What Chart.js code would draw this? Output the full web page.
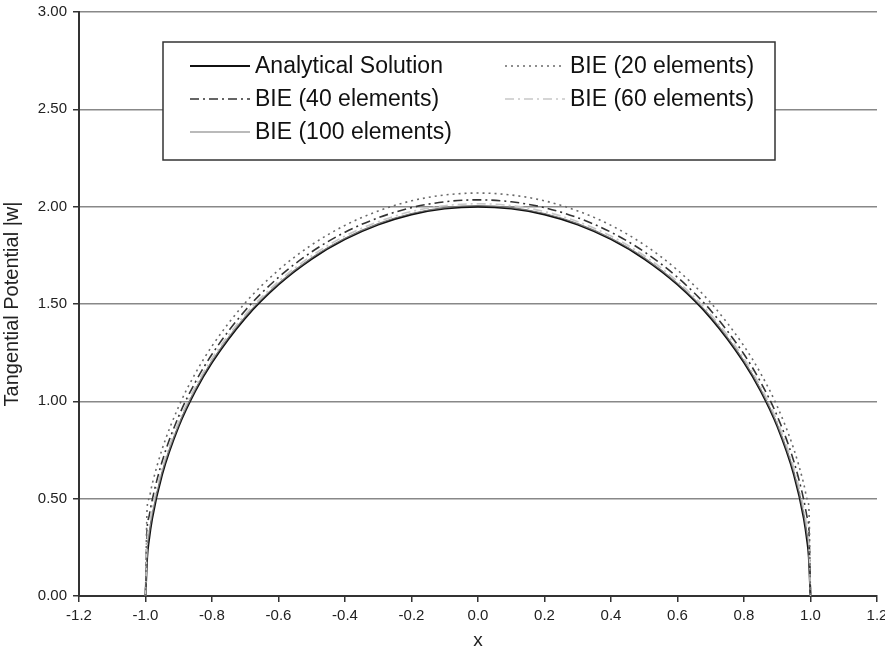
<!DOCTYPE html>
<html>
<head>
<meta charset="utf-8">
<script src="https://cdn.jsdelivr.net/npm/chart.js@4.4.0/dist/chart.umd.min.js"></script>
<style>
  html, body { margin: 0; padding: 0; background: #fff; }
  #wrap { width: 885px; height: 652px; }
</style>
</head>
<body>
<div id="wrap"><canvas id="potentialChart" width="885" height="652"></canvas></div>
<script>
// x positions along the plate
const xs = [-1, -0.995, -0.99, -0.98, -0.95, -0.9, -0.85, -0.8, -0.7, -0.6, -0.5, -0.4, -0.3, -0.2, -0.1,
  0, 0.1, 0.2, 0.3, 0.4, 0.5, 0.6, 0.7, 0.8, 0.85, 0.9, 0.95, 0.98, 0.99, 0.995, 1];

// tangential potential |w|
const analytical = [0, 0.200, 0.282, 0.398, 0.624, 0.872, 1.054, 1.200, 1.428, 1.600, 1.732, 1.833, 1.908, 1.960, 1.990,
  2.000, 1.990, 1.960, 1.908, 1.833, 1.732, 1.600, 1.428, 1.200, 1.054, 0.872, 0.624, 0.398, 0.282, 0.200, 0];
const bie20 = [0, 0.456, 0.498, 0.574, 0.754, 0.974, 1.144, 1.284, 1.506, 1.674, 1.804, 1.904, 1.978, 2.030, 2.060,
  2.070, 2.060, 2.030, 1.978, 1.904, 1.804, 1.674, 1.506, 1.284, 1.144, 0.974, 0.754, 0.574, 0.498, 0.456, 0];
const bie40 = [0, 0.349, 0.403, 0.492, 0.691, 0.924, 1.099, 1.242, 1.467, 1.637, 1.768, 1.869, 1.943, 1.995, 2.025,
  2.035, 2.025, 1.995, 1.943, 1.869, 1.768, 1.637, 1.467, 1.242, 1.099, 0.924, 0.691, 0.492, 0.403, 0.349, 0];
const bie60 = [0, 0.284, 0.347, 0.447, 0.657, 0.897, 1.075, 1.220, 1.446, 1.616, 1.748, 1.849, 1.923, 1.975, 2.005,
  2.015, 2.005, 1.975, 1.923, 1.849, 1.748, 1.616, 1.446, 1.220, 1.075, 0.897, 0.657, 0.447, 0.347, 0.284, 0];
const bie100 = [0, 0.237, 0.309, 0.418, 0.638, 0.881, 1.062, 1.207, 1.435, 1.606, 1.738, 1.838, 1.913, 1.965, 1.995,
  2.005, 1.995, 1.965, 1.913, 1.838, 1.738, 1.606, 1.435, 1.207, 1.062, 0.881, 0.638, 0.418, 0.309, 0.237, 0];

const xTicks = [-1.2, -1.0, -0.8, -0.6, -0.4, -0.2, 0.0, 0.2, 0.4, 0.6, 0.8, 1.0, 1.2];
const yTicks = [0, 0.5, 1.0, 1.5, 2.0, 2.5, 3.0];

const FONT = "'Liberation Sans', Arial, sans-serif";

function pts(ys) {
  return xs.map((x, i) => ({ x: x, y: ys[i] }));
}

function series(label, ys, color, width, dash) {
  return {
    label: label,
    data: pts(ys),
    borderColor: color,
    borderWidth: width,
    borderDash: dash,
    pointRadius: 0,
    fill: false,
    cubicInterpolationMode: "monotone",
  };
}

// draw order: analytical on top
const datasets = [
  series("BIE (20 elements)", bie20, "#6a6a6a", 1.6, [2, 4]),
  series("BIE (60 elements)", bie60, "#c8c8c8", 1.6, [9, 4, 2, 4]),
  series("BIE (40 elements)", bie40, "#333333", 1.6, [9, 4, 2, 4]),
  series("BIE (100 elements)", bie100, "#777777", 1.2, []),
  series("Analytical Solution", analytical, "#111111", 2, []),
];

// legend box drawn inside the plot, two columns like the original
const legendOrder = [
  ["Analytical Solution", 0, 0],
  ["BIE (20 elements)", 1, 0],
  ["BIE (40 elements)", 0, 1],
  ["BIE (60 elements)", 1, 1],
  ["BIE (100 elements)", 0, 2],
];

const boxLegend = {
  id: "boxLegend",
  afterDraw(chart) {
    const c = chart.ctx;
    const bx = 163, by = 42, bw = 612, bh = 118;
    c.save();
    c.fillStyle = "#fff";
    c.fillRect(bx, by, bw, bh);
    c.strokeStyle = "#333";
    c.lineWidth = 1.5;
    c.strokeRect(bx, by, bw, bh);
    c.font = "23px " + FONT;
    c.textBaseline = "middle";
    legendOrder.forEach(([label, col, row]) => {
      const ds = chart.data.datasets.find((d) => d.label === label);
      const x0 = col === 0 ? 190 : 505;
      const y = 66 + row * 33;
      c.strokeStyle = ds.borderColor;
      c.lineWidth = ds.borderWidth;
      c.setLineDash(ds.borderDash);
      c.beginPath();
      c.moveTo(x0, y);
      c.lineTo(x0 + 60, y);
      c.stroke();
      c.setLineDash([]);
      c.fillStyle = "#111";
      c.fillText(label, x0 + 65, y + 1);
    });
    c.restore();
  },
};

new Chart(document.getElementById("potentialChart"), {
  type: "line",
  data: { datasets: datasets },
  plugins: [boxLegend],
  options: {
    responsive: false,
    animation: false,
    layout: { padding: { top: 12, right: 8, left: 0, bottom: 0 } },
    plugins: { legend: { display: false }, tooltip: { enabled: false } },
    scales: {
      x: {
        type: "linear",
        min: -1.2,
        max: 1.2,
        afterBuildTicks: (s) => { s.ticks = xTicks.map((v) => ({ value: v })); },
        afterFit: (s) => { s.height = 56; s.paddingLeft = 0; s.paddingRight = 0; },
        ticks: {
          color: "#222",
          font: { family: FONT, size: 15 },
          padding: 5,
          callback: (v) => Number(v).toFixed(1),
        },
        grid: { drawOnChartArea: false, drawTicks: true, tickLength: 6, color: "#333", lineWidth: 1.5 },
        border: { color: "#333", width: 2 },
        title: { display: true, text: "x", color: "#222", font: { family: FONT, size: 19 }, padding: { top: 2, bottom: 0 } },
      },
      y: {
        min: 0,
        max: 3,
        afterBuildTicks: (s) => { s.ticks = yTicks.map((v) => ({ value: v })); },
        afterFit: (s) => { s.width = 79; s.paddingTop = 0; s.paddingBottom = 0; },
        ticks: {
          color: "#222",
          font: { family: FONT, size: 15 },
          padding: 6,
          callback: (v) => Number(v).toFixed(2),
        },
        grid: { color: "#888", lineWidth: 1.5, drawTicks: true, tickLength: 6, tickColor: "#333" },
        border: { color: "#333", width: 2 },
        title: { display: true, text: "Tangential Potential |w|", color: "#222", font: { family: FONT, size: 20 }, padding: { top: 0, bottom: 2 } },
      },
    },
  },
});
</script>
</body>
</html>
